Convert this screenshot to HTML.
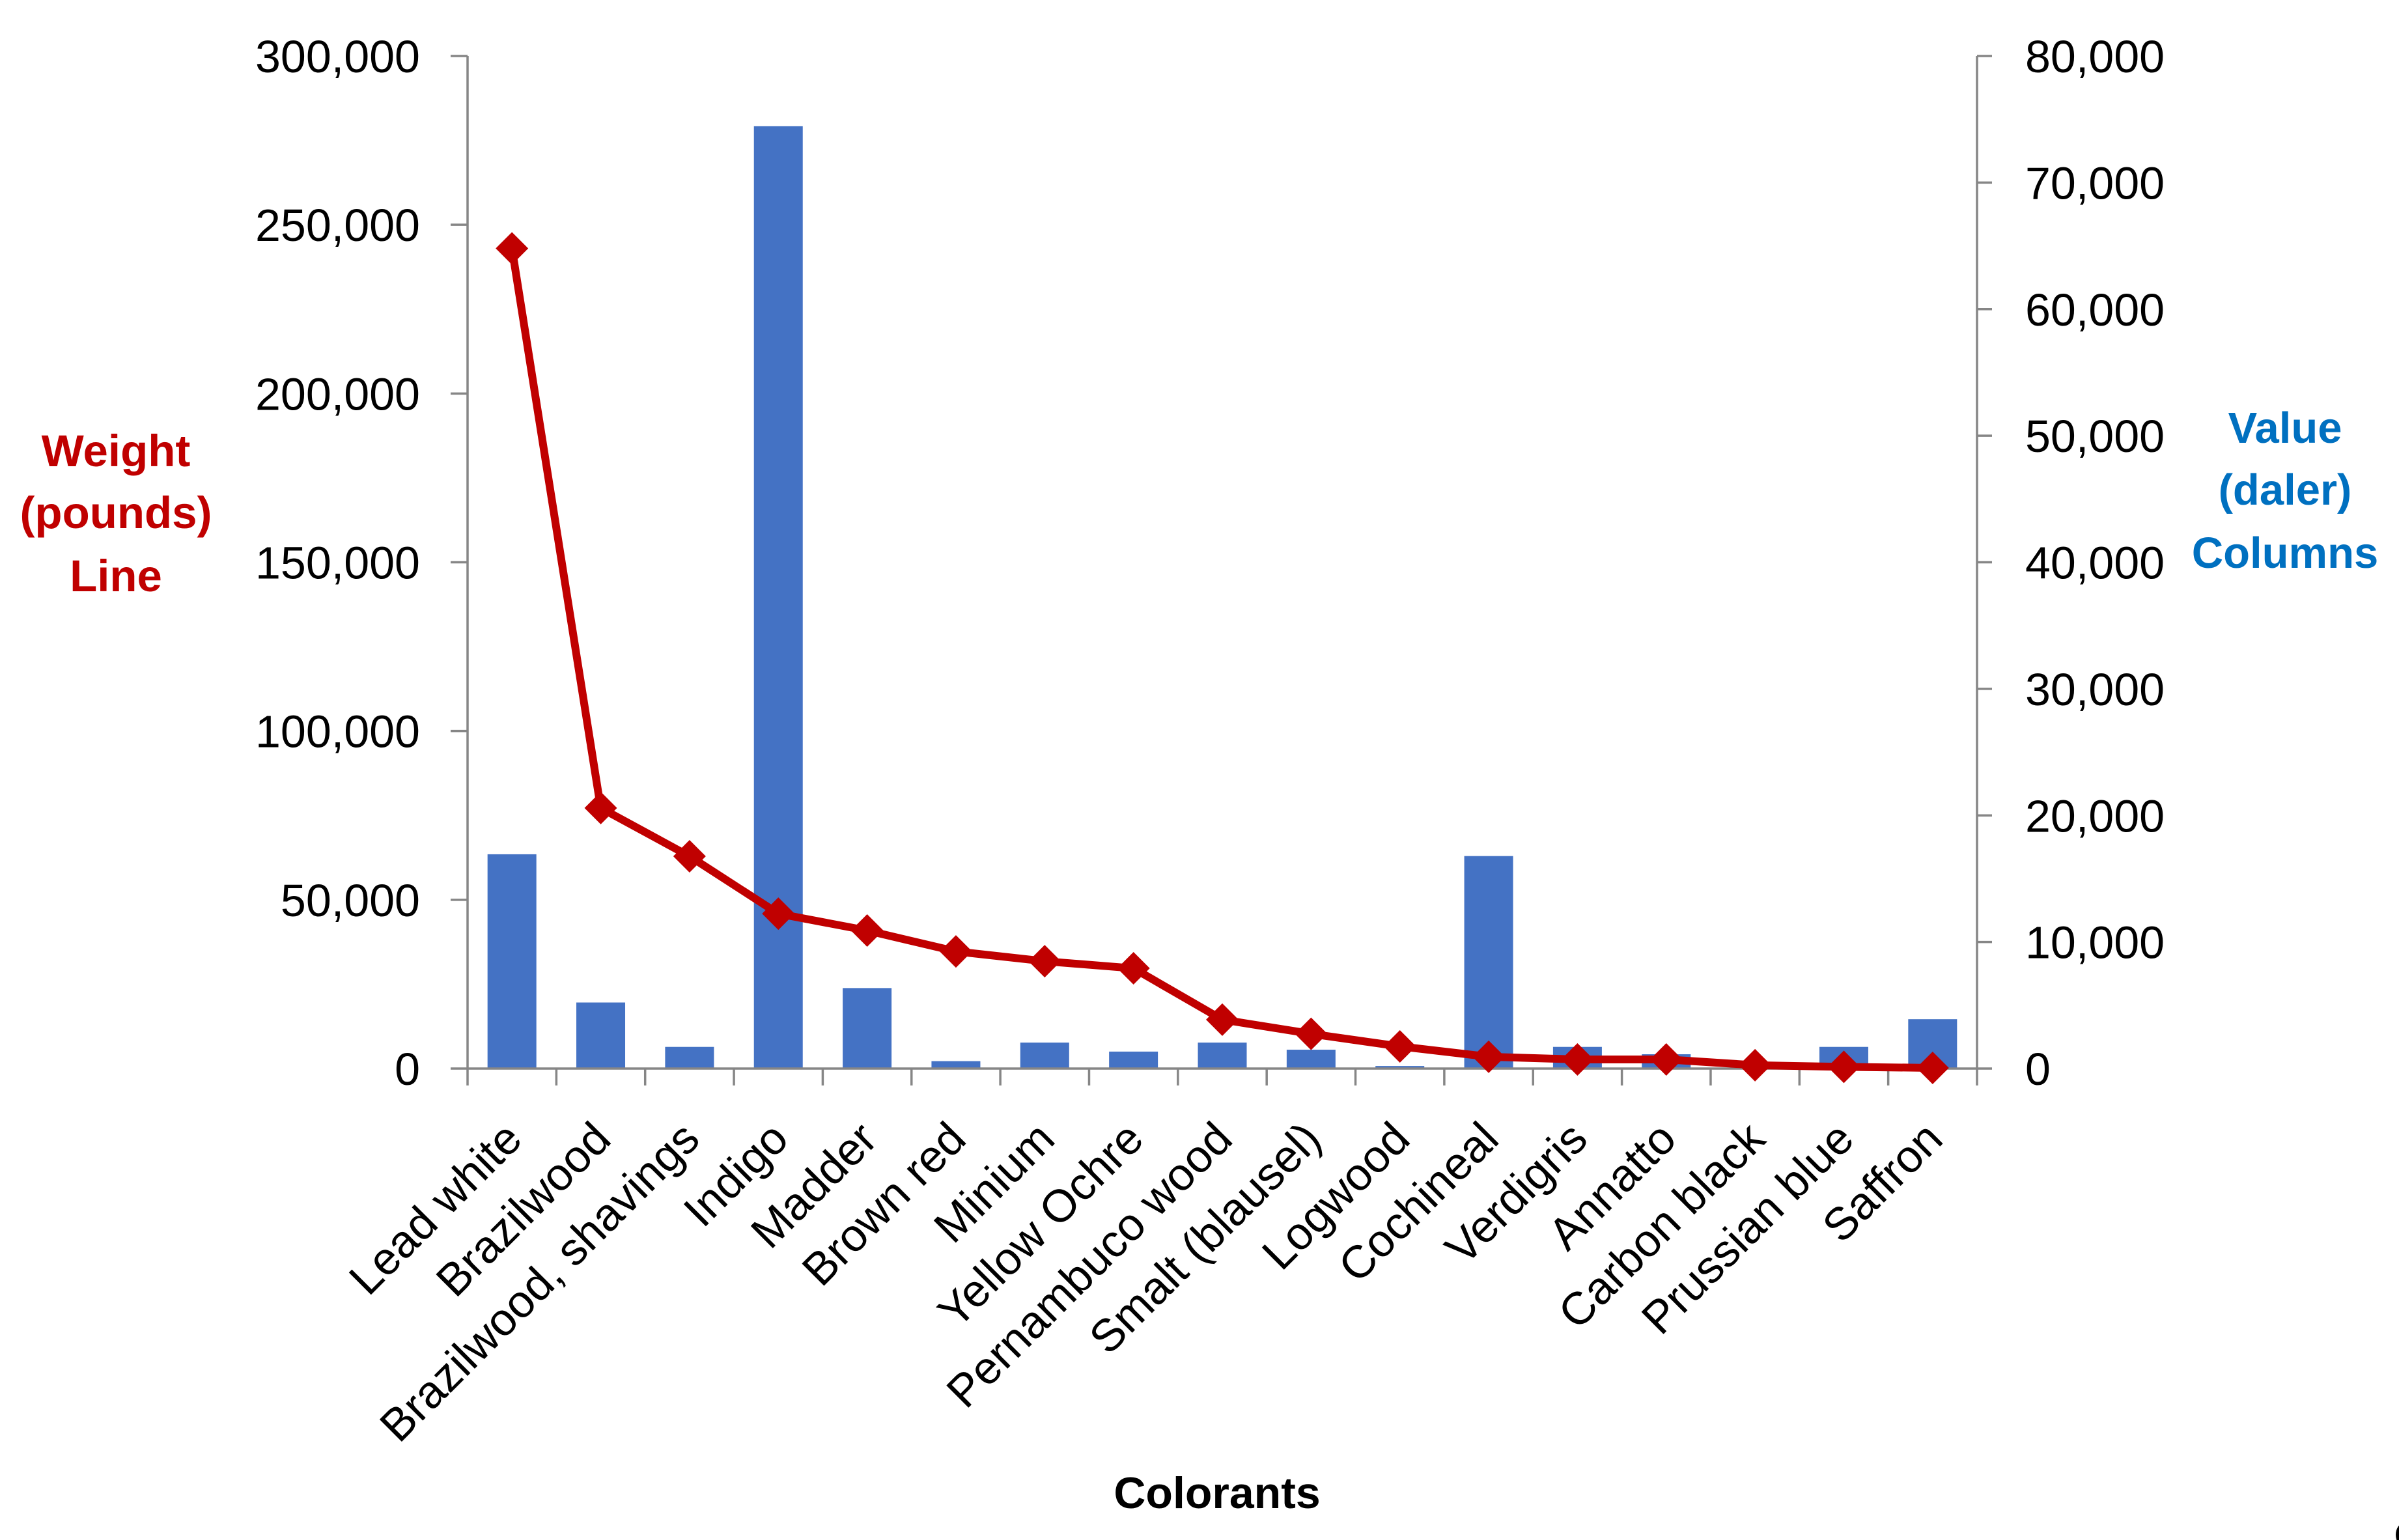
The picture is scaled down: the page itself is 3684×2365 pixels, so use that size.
<!DOCTYPE html>
<html lang="en">
<head>
<meta charset="utf-8">
<title>Colorants: weight and value</title>
<style>
html,body{margin:0;padding:0;background:#fff;width:3684px;height:2365px;overflow:hidden}
svg{display:block;font-family:"Liberation Sans",sans-serif}
</style>
</head>
<body>
<svg id="chart" xmlns="http://www.w3.org/2000/svg" width="3684" height="2365" viewBox="0 0 3684 2365">
  <rect x="0" y="0" width="3684" height="2365" fill="#ffffff"/>
  <g fill="#C00000" font-weight="700" font-size="69" text-anchor="middle">
    <text x="178" y="716">Weight</text>
    <text x="178" y="811">(pounds)</text>
    <text x="178" y="908">Line</text>
  </g>
  <g fill="#0070C0" font-weight="700" font-size="67" text-anchor="middle">
    <text x="3509" y="680">Value</text>
    <text x="3509" y="775">(daler)</text>
    <text x="3509" y="872">Columns</text>
  </g>
  <text x="1869" y="2316" fill="#000000" font-weight="700" font-size="68" text-anchor="middle">Colorants</text>
  <ellipse cx="3692" cy="2357" rx="13" ry="18" fill="#000000"/>
</svg>
<script>
const categories = ["Lead white","Brazilwood","Brazilwood, shavings","Indigo","Madder","Brown red","Minium","Yellow Ochre","Pernambuco wood","Smalt (blausel)","Logwood","Cochineal","Verdigris","Annatto","Carbon black","Prussian blue","Saffron"];
const valueDaler = [16930,5220,1712,74450,6360,586,2050,1340,2050,1490,200,16790,1712,1130,100,1712,3900];
const weightPounds = [243000,77200,62900,45900,40900,34700,31800,29700,14500,10300,6560,3500,2700,2700,1000,500,200];
const leftTicks = [0,50000,100000,150000,200000,250000,300000];
const rightTicks = [0,10000,20000,30000,40000,50000,60000,70000,80000];

const SVGNS = "http://www.w3.org/2000/svg";
const svg = document.getElementById("chart");
const plotLeft = 718, plotRight = 3036, plotTop = 86, plotBottom = 1641;
const leftMax = leftTicks[leftTicks.length - 1];
const rightMax = rightTicks[rightTicks.length - 1];
const band = (plotRight - plotLeft) / categories.length;
const barWidth = 75;
const axisColor = "#868686";

function xCenter(i) { return plotLeft + band * (i + 0.5); }
function yLeft(v) { return plotBottom - (v / leftMax) * (plotBottom - plotTop); }
function yRight(v) { return plotBottom - (v / rightMax) * (plotBottom - plotTop); }
function fmt(v) { return v.toString().replace(/\B(?=(\d{3})+$)/g, ","); }
function make(tag, attrs, parent) {
  const el = document.createElementNS(SVGNS, tag);
  for (const k in attrs) el.setAttribute(k, attrs[k]);
  parent.appendChild(el);
  return el;
}

// Columns (right axis)
const barsGroup = make("g", {fill: "#4472C4"}, svg);


valueDaler.forEach(function (v, i) {
  const top = yRight(v);
  const bar = make("rect", {x: xCenter(i) - barWidth / 2, y: top, width: barWidth, height: plotBottom - top}, barsGroup);
  
  
});

// Axes
const axesGroup = make("g", {stroke: axisColor, "stroke-width": 3.5, fill: "none"}, svg);


const leftAxis = make("line", {x1: plotLeft, y1: plotTop, x2: plotLeft, y2: plotBottom}, axesGroup);


const rightAxis = make("line", {x1: plotRight, y1: plotTop, x2: plotRight, y2: plotBottom}, axesGroup);


const bottomAxis = make("line", {x1: plotLeft, y1: plotBottom, x2: plotRight, y2: plotBottom}, axesGroup);



leftTicks.forEach(function (v) {
  const y = yLeft(v);
  const tick = make("line", {x1: plotLeft - 26, y1: y, x2: plotLeft, y2: y}, axesGroup);
  
  
  const label = make("text", {x: 645, y: y + 25, "font-size": 70, fill: "#000", "text-anchor": "end"}, svg);
  
  
  label.textContent = fmt(v);
});
rightTicks.forEach(function (v) {
  const y = yRight(v);
  const tick = make("line", {x1: plotRight, y1: y, x2: plotRight + 23, y2: y}, axesGroup);
  
  
  const label = make("text", {x: 3110, y: y + 25, "font-size": 70, fill: "#000", "text-anchor": "start"}, svg);
  
  
  label.textContent = fmt(v);
});
for (let i = 0; i <= categories.length; i++) {
  const x = plotLeft + band * i;
  const tick = make("line", {x1: x, y1: plotBottom, x2: x, y2: plotBottom + 26}, axesGroup);
  
  
}

// Category labels
categories.forEach(function (name, i) {
  const ax = xCenter(i) + 19, ay = 1753;
  const label = make("text", {x: 0, y: 0, "font-size": 70, fill: "#000", "text-anchor": "end", transform: "translate(" + ax + "," + ay + ") rotate(-45)"}, svg);
  
  
  label.textContent = name;
});

// Weight line (left axis)
const linePoints = weightPounds.map(function (v, i) { return xCenter(i) + "," + yLeft(v); }).join(" ");
const weightLine = make("polyline", {points: linePoints, fill: "none", stroke: "#C00000", "stroke-width": 12, "stroke-linejoin": "round"}, svg);


const markerGroup = make("g", {fill: "#C00000"}, svg);


const r = 25;
weightPounds.forEach(function (v, i) {
  const x = xCenter(i), y = yLeft(v);
  const marker = make("polygon", {points: [x, y - r, x + r, y, x, y + r, x - r, y].join(" ")}, markerGroup);
  
  
});
</script>
</body>
</html>
